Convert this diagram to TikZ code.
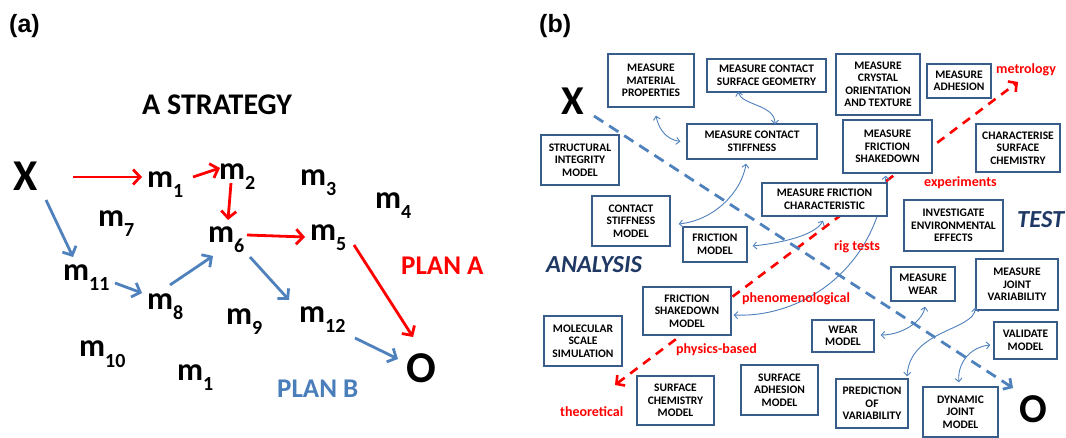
\documentclass[tikz,border=0pt]{standalone}
\usepackage{fontspec}
\setmainfont{Carlito}
\newfontfamily\arialf{Liberation Sans}
\usetikzlibrary{arrows.meta,calc}
\definecolor{myred}{HTML}{FF0000}
\definecolor{lblue}{HTML}{4F81BD}
\definecolor{boxblue}{HTML}{385D8A}
\definecolor{dblue}{HTML}{1F3864}
\definecolor{planb}{HTML}{4A7EBB}
\newcommand{\msub}[1]{m\raisebox{-10pt}{\fontsize{20}{20}\selectfont #1}}
\begin{document}
\begin{tikzpicture}[x=1pt,y=-1pt,
  lab/.style={inner sep=0pt, anchor=base west, font=\bfseries\fontsize{32}{32}\selectfont},
  big/.style={inner sep=0pt, anchor=base west, font=\bfseries\fontsize{44}{44}\selectfont},
  bigb/.style={inner sep=0pt, anchor=base west, font=\bfseries\fontsize{41}{41}\selectfont},
  ttl/.style={inner sep=0pt, anchor=base west, font=\bfseries\fontsize{30}{30}\selectfont},
  plan/.style={inner sep=0pt, anchor=base west, font=\bfseries\fontsize{27}{27}\selectfont},
  paren/.style={inner sep=0pt, anchor=base west, font=\arialf\bfseries\fontsize{25}{25}\selectfont},
  ital/.style={inner sep=0pt, anchor=base west, text=dblue, font=\bfseries\itshape\fontsize{24.5}{24.5}\selectfont},
  rl/.style={inner sep=0pt, anchor=base west, text=myred, font=\bfseries\fontsize{14}{14}\selectfont},
  box/.style={draw=boxblue, line width=1.3pt, fill=white, align=center, inner sep=0pt,
    font=\bfseries\fontsize{11.5}{12.5}\selectfont},
  ra/.style={draw=myred, line width=2.8pt, -{Straight Barb[length=7pt,width=15pt]}},
  ba/.style={draw=lblue, line width=2.8pt, -{Straight Barb[length=7pt,width=15pt]}},
  cv/.style={draw=lblue, line width=0.9pt, {Straight Barb[length=3.5pt,width=7pt]}-{Straight Barb[length=3.5pt,width=7pt]}},
  bdash/.style={draw=lblue, line width=2.8pt, dash pattern=on 11pt off 7pt, -{Straight Barb[length=6pt,width=13pt]}},
  rdash/.style={draw=myred, line width=2.6pt, dash pattern=on 9pt off 7pt, {Straight Barb[length=6pt,width=13pt]}-{Straight Barb[length=6pt,width=13pt]}}
]
\useasboundingbox[fill=white] (0,0) rectangle (1066,438);

% ---------------- panel (a)
\node[paren] (la) at (9,33) {(a)};
\node[ttl] (strat) at (142,115) {A STRATEGY};
\node[big] (X) at (13,191) {X};
\node[big] (O) at (406,383) {O};
\node[lab] (m1) at (147,188) {\msub{1}};
\node[lab] (m2) at (219,180) {\msub{2}};
\node[lab] (m3) at (300,186) {\msub{3}};
\node[lab] (m4) at (375,209) {\msub{4}};
\node[lab] (m5) at (310,241) {\msub{5}};
\node[lab] (m6) at (208,243) {\msub{6}};
\node[lab] (m7) at (98,227) {\msub{7}};
\node[lab] (m8) at (147,310) {\msub{8}};
\node[lab] (m9) at (226,325) {\msub{9}};
\node[lab] (m10) at (79,357) {\msub{10}};
\node[lab] (m11) at (63,281) {\msub{11}};
\node[lab] (m12) at (299,323) {\msub{12}};
\node[lab] (m1b) at (177,381) {\msub{1}};
\node[plan, text=myred] (planA) at (401,275) {PLAN A};
\node[plan, text=planb] (planB) at (277,398) {PLAN B};

\draw[ra] ($(X.base west)+(60,-14)$) -- ($(m1.base west)+(-5,-11)$);
\draw[ra] ($(m1.base west)+(46,-11)$) -- ($(m2.base west)+(1,-12)$);
\draw[ra] ($(m2.base west)+(12,3)$) -- ($(m6.base west)+(20,-23)$);
\draw[ra] ($(m6.base west)+(39,-8)$) -- ($(m5.base west)+(-5,-4)$);
\draw[ra] ($(m5.base west)+(44,4)$) -- ($(O.base west)+(7,-46)$);
\draw[ba] ($(X.base west)+(33,9)$) -- ($(m11.base west)+(10,-24)$);
\draw[ba] ($(m11.base west)+(52,2)$) -- ($(m8.base west)+(-5,-17)$);
\draw[ba] ($(m8.base west)+(23,-25)$) -- ($(m6.base west)+(5,13)$);
\draw[ba] ($(m6.base west)+(42,14)$) -- ($(m12.base west)+(-10,-23)$);
\draw[ba] ($(m12.base west)+(56,15)$) -- ($(O.base west)+(-8,-24)$);

% ---------------- panel (b)
\node[paren] (lb) at (539,33) {(b)};
\node[bigb] (Xb) at (561,115) {X};
\node[bigb] (Ob) at (1019,422) {O};

\coordinate (theo) at (615,385);
\coordinate (metro) at (1018,82);
\draw[rdash] (theo) -- (metro);
\draw[bdash] ($(Xb.base west)+(33,1)$) -- ($(Ob.base west)+(-6,-34)$);

\node[box, minimum width=86pt, minimum height=53pt] (mmp) at (651,80.5) {MEASURE\\MATERIAL\\PROPERTIES};
\node[box, minimum width=119pt, minimum height=33pt] (mcsg) at (766.5,75.5) {MEASURE CONTACT\\SURFACE GEOMETRY};
\node[box, minimum width=130pt, minimum height=35pt] (mcs) at (752,141.5) {MEASURE CONTACT\\STIFFNESS};
\node[box, minimum width=78pt, minimum height=50pt] (sim) at (580,160) {STRUCTURAL\\INTEGRITY\\MODEL};
\node[box, minimum width=78pt, minimum height=50pt] (csm) at (631,221) {CONTACT\\STIFFNESS\\MODEL};
\node[box, minimum width=64pt, minimum height=35pt] (fm) at (715,244.5) {FRICTION\\MODEL};
\node[box, minimum width=84pt, minimum height=61pt] (mcot) at (878,84.5) {MEASURE\\CRYSTAL\\ORIENTATION\\AND TEXTURE};
\node[box, minimum width=64pt, minimum height=34pt] (ma) at (959,81) {MEASURE\\ADHESION};
\node[box, minimum width=84pt, minimum height=48pt] (css) at (1018,148) {CHARACTERISE\\SURFACE\\CHEMISTRY};
\node[box, minimum width=99pt, minimum height=51pt] (iee) at (953.5,225.5) {INVESTIGATE\\ENVIRONMENTAL\\EFFECTS};
\node[box, minimum width=78pt, minimum height=50pt] (mss) at (583,341) {MOLECULAR\\SCALE\\SIMULATION};
\node[box, minimum width=77pt, minimum height=49pt] (scm) at (675.5,400.5) {SURFACE\\CHEMISTRY\\MODEL};
\node[box, minimum width=77pt, minimum height=50pt] (sam) at (779.5,390) {SURFACE\\ADHESION\\MODEL};
\node[box, minimum width=64pt, minimum height=34pt] (mw) at (923,284) {MEASURE\\WEAR};
\node[box, minimum width=82pt, minimum height=51pt] (mjv) at (1017,284.5) {MEASURE\\JOINT\\VARIABILITY};
\node[box, minimum width=62pt, minimum height=32pt] (wm) at (843,336) {WEAR\\MODEL};
\node[box, minimum width=63pt, minimum height=37pt] (vm) at (1025.5,340.5) {VALIDATE\\MODEL};
\node[box, minimum width=72pt, minimum height=49pt] (pov) at (872,403.5) {PREDICTION\\OF\\VARIABILITY};
\node[box, minimum width=75pt, minimum height=50pt] (djm) at (960.5,412) {DYNAMIC\\JOINT\\MODEL};
\node[box, minimum width=89pt, minimum height=53pt] (mfs) at (887.5,146.5) {MEASURE\\FRICTION\\SHAKEDOWN};
\node[box, minimum width=88pt, minimum height=48pt] (fsm) at (687,311) {FRICTION\\SHAKEDOWN\\MODEL};

\draw[cv] ($(mfs.south)+(-1.5,2)$) .. controls +(-10,95) and +(67,3) .. ($(fsm.east)+(2,4)$);
\node[box, minimum width=125pt, minimum height=33pt] (mfc) at (824.5,199.5) {MEASURE FRICTION\\CHARACTERISTIC};

\draw[cv] ($(mmp.south)+(5,8)$) .. controls +(3,15) and +(-13,-2) .. ($(mcs.west)+(-6,0)$);
\draw[cv] ($(mcsg.south)+(-28.5,-1)$) .. controls +(4,14) and +(0,-20) .. ($(mcs.north)+(23,1)$);
\draw[cv] ($(mcs.south)+(-6,4)$) .. controls +(-4,27) and +(37,-4) .. ($(csm.east)+(8,3)$);
\draw[cv] ($(mfc.south)+(-1.5,4)$) .. controls +(-8,15) and +(28,-3) .. ($(fm.east)+(5,1.5)$);
\draw[cv] ($(mw.south)+(2,5)$) .. controls +(-3,16) and +(20,0) .. ($(wm.east)+(6,-1)$);
\draw[cv] ($(mjv.south west)+(0,-3)$) .. controls +(-1,23) and +(3,-47) .. ($(pov.north)+(35,-2)$);
\draw[cv] ($(vm.west)+(-3,4.5)$) .. controls +(-21,2) and +(-2,-18) .. ($(djm.north)+(-1.5,-4)$);

\node[ital] (analysis) at (546,273) {ANALYSIS};
\node[ital] (test) at (1017,228) {TEST};
\node[rl] (lmetro) at (996,74) {metrology};
\node[rl] (lexp) at (924,187) {experiments};
\node[rl] (lrig) at (834,251) {rig tests};
\node[rl] (lphen) at (742,303) {phenomenological};
\node[rl] (lphys) at (676,354) {physics-based};
\node[rl] (ltheo) at (560,416) {theoretical};
\end{tikzpicture}
\end{document}
